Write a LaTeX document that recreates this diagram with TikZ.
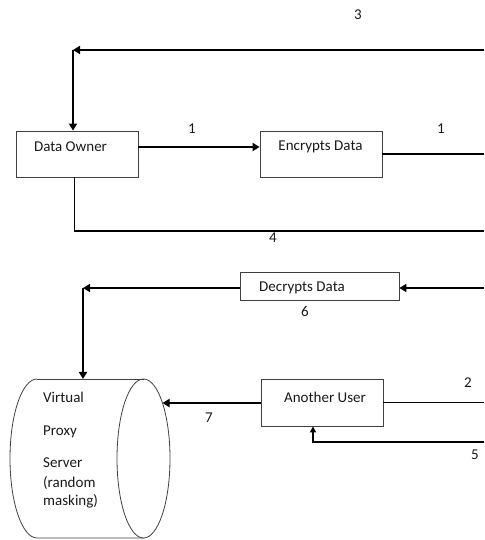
\documentclass[tikz,border=0pt]{standalone}
\usepackage{fontspec}
\setmainfont{Carlito}
\usetikzlibrary{arrows.meta}
\begin{document}
\begin{tikzpicture}[x=1pt,y=1pt,
  every node/.style={font=\fontsize{15}{18}\selectfont, text=black!90, inner sep=0pt},
  box/.style={draw=black!75, line width=0.8pt, minimum width=#1, anchor=center},
  thk/.style={line width=2.4pt},
  thn/.style={line width=1pt},
  tip/.style={-{Triangle[length=7pt,width=8pt]}},
  smalltip/.style={-{Triangle[length=6pt,width=6pt]}},
  txt/.style={anchor=center}]
\useasboundingbox (0,0) rectangle (484,540);
% boxes
\node[box=122pt, minimum height=46pt] (do) at (77,386) {};
\node[txt] (dot) at (70.5,393) {Data Owner};
\node[box=122pt, minimum height=46pt] (enc) at (321,386) {};
\node[txt] (enct) at (320.5,393) {Encrypts Data};
\node[box=159pt, minimum height=28pt] (dec) at (319.5,254) {};
\node[txt] (dect) at (302,252) {Decrypts Data};
\node[box=122pt, minimum height=47pt] (au) at (322,137.5) {};
\node[txt] (aut) at (325,143) {Another User};
% cylinder
\draw[black!75, line width=0.8pt] (37,161) -- (143.5,161);
\draw[black!75, line width=0.8pt] (143.5,81.5) ellipse [x radius=26.5, y radius=79.5];
\draw[black!75, line width=0.8pt] (37,161) arc[start angle=90, end angle=270, x radius=27, y radius=79.5] -- (143.5,2);
\coordinate (cyltop) at (83,161);
\coordinate (cylright) at (162.5,137);
\node[anchor=west] (v1) at (43,143) {Virtual};
\node[anchor=west] (v2) at (43,108) {Proxy};
\node[anchor=west] (v3) at (43,77) {Server};
\node[anchor=west] (v4) at (43,57) {(random};
\node[anchor=west] (v5) at (43,39) {masking)};
% coordinates at right edge and corners
\coordinate (r1) at (484,386);
\coordinate (r3) at (484,490);
\coordinate (c3) at (73,490);
\coordinate (c4) at (74,309);
\coordinate (r4) at (484,309);
\coordinate (r6) at (484,252);
\coordinate (c6) at (83,252);
\coordinate (r2) at (484,137);
\coordinate (r5) at (484,98);
\coordinate (c5) at (313,98);
% connectors
\draw[thk,tip] ([yshift=7pt]do.east) -- ([yshift=7pt]enc.west);
\draw[thk] (enc.east) -- (r1);
\draw[thk,tip] (r3) -- (c3);
\draw[thk,tip] (c3) -- (c3 |- do.north);
\draw[thn] (c4 |- do.south) -- (c4);
\draw[line width=2pt] ([xshift=-0.5pt]c4) -- (r4);
\draw[thk,tip] (r6) -- ([yshift=-2pt]dec.east);
\draw[thk,tip] ([yshift=-2pt]dec.west) -- (c6);
\draw[thk,tip] (c6) -- (cyltop);
\draw[thk,tip] (au.west |- cylright) -- (cylright);
\draw[thn] (au.east |- r2) -- (r2);
\draw[line width=1.3pt,smalltip] (r5) -- (c5) -- (c5 |- au.south);
% labels
\node (l1a) at (192,411) {1};
\node (l1b) at (441,411) {1};
\node (l3) at (358,525) {3};
\node (l4) at (273,302) {4};
\node (l6) at (305,229) {6};
\node (l7) at (209,122) {7};
\node (l2) at (468,157) {2};
\node (l5) at (475,85) {5};
\end{tikzpicture}
\end{document}
